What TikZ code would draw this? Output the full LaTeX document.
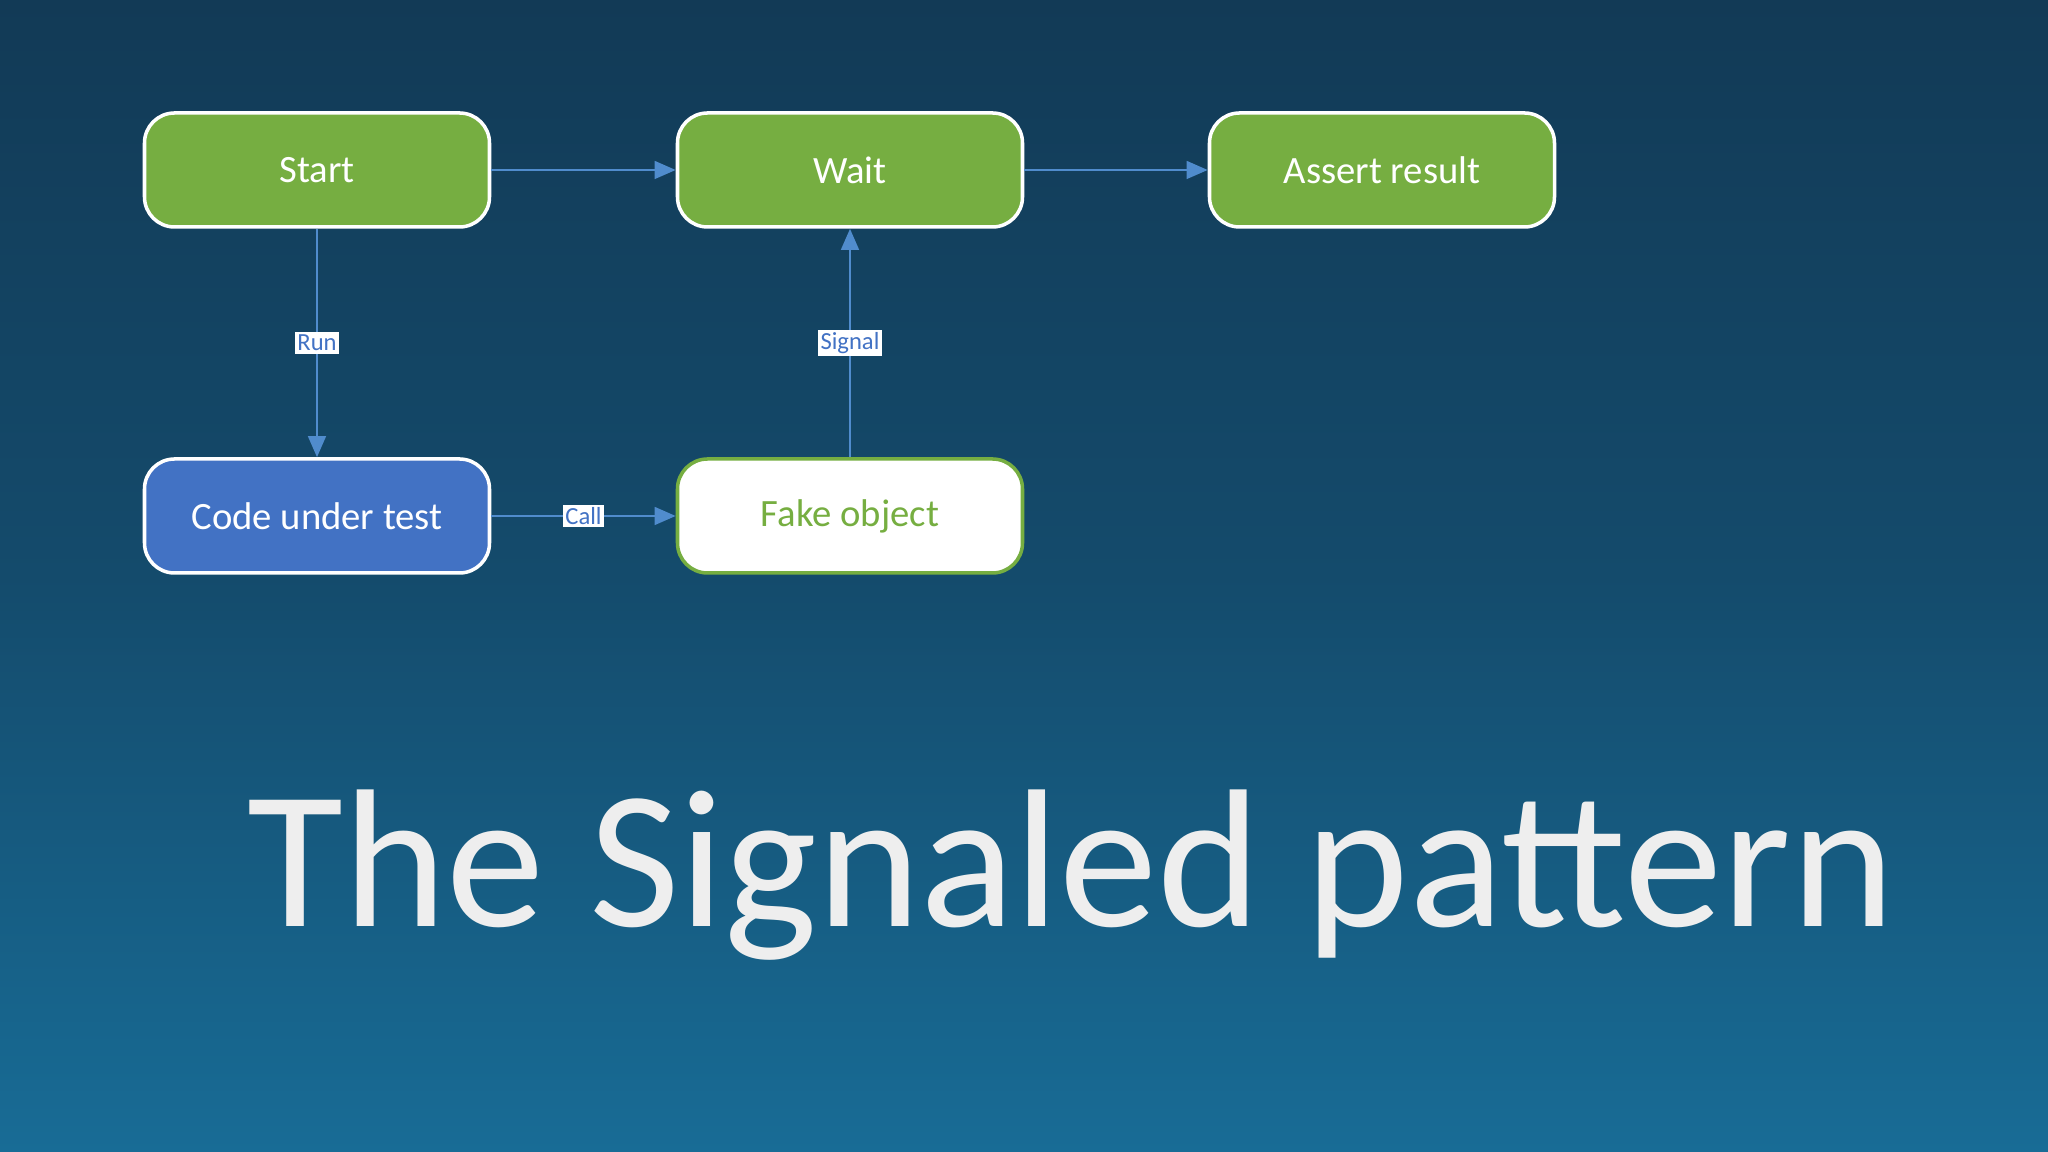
\documentclass[tikz,border=0pt]{standalone}
\usepackage{fontspec}
\setmainfont{Carlito}
\usetikzlibrary{arrows.meta,shadings}
\definecolor{gfill}{RGB}{118,174,65}
\definecolor{bfill}{RGB}{66,114,196}
\definecolor{lnk}{RGB}{80,140,205}
\definecolor{bgtop}{RGB}{18,58,86}
\definecolor{bgbot}{RGB}{24,108,150}
\definecolor{titlec}{RGB}{238,238,238}
\tikzset{
 box/.style={rounded corners=0.3cm,minimum width=3.45cm,minimum height=1.14cm,draw=white,line width=1pt,font=\fontsize{11}{13}\selectfont,text=white},
 green/.style={box,fill=gfill},
 link/.style={draw=lnk,line width=0.8pt,-{Triangle[length=6pt,width=5pt]}},
 lab/.style={fill=white,text=bfill,inner sep=0.8pt,font=\fontsize{7}{8}\selectfont}
}
\begin{document}
\begin{tikzpicture}
\useasboundingbox (0,0) rectangle (20.48,11.52);
\shade[top color=bgtop,bottom color=bgbot,middle color={rgb,255:red,20;green,75;blue,108}] (0,0) rectangle (20.48,11.52);
\node[green] (start) at (3.17,9.82) {Start};
\node[green] (wait) at (8.50,9.82) {Wait};
\node[green] (assert) at (13.82,9.82) {Assert result};
\node[box,fill=bfill] (code) at (3.17,6.36) {Code under test};
\node[box,fill=white,draw=gfill,text=gfill] (fake) at (8.50,6.36) {Fake object};
\draw[link] (start) -- (wait);
\draw[link] (wait) -- (assert);
\draw[link] (start) -- node[lab]{Run} (code);
\draw[link] (fake) -- node[lab]{Signal} (wait);
\draw[link] (code) -- node[lab,pos=0.5]{Call} (fake);
\node[anchor=base,text=titlec,font=\fontsize{56}{64}\selectfont] (title) at (10.71,2.25) {The Signaled pattern};
\end{tikzpicture}
\end{document}
